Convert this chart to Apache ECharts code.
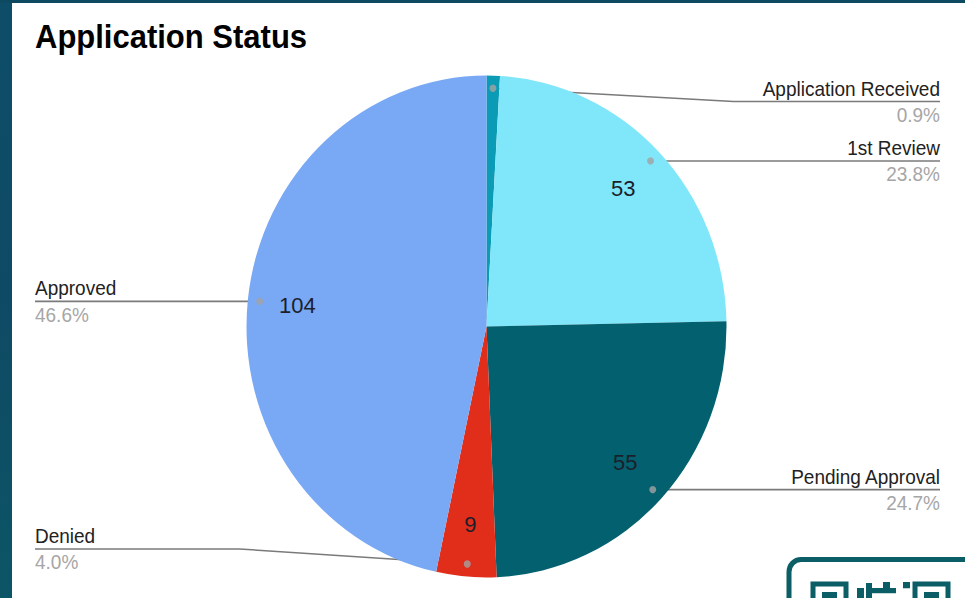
<!DOCTYPE html>
<html><head><meta charset="utf-8">
<script src="https://cdn.jsdelivr.net/npm/echarts@6/dist/echarts.min.js"></script>
<style>html,body{margin:0;padding:0;background:#fff;width:965px;height:598px}
#c{width:965px;height:572px;transform:scaleY(1.045455);transform-origin:0 0}</style>
</head><body><div id="c"></div>
<script>
const categories = ['Application Received', '1st Review', 'Pending Approval', 'Denied', 'Approved'];
const values = [2, 53, 55, 9, 104];
const colors = ['#0b9bb5', '#80e7fb', '#03606e', '#e12e1b', '#79a8f5'];
const titleText = 'Application Status';

// the reference picture is slightly stretched vertically; the chart is drawn at 572px high and scaled
const S = 598 / 572;
const Y = v => v / S;
const CX = 486.5, CY = Y(326.5), R = 240;
const LABEL_TOP = Y(101.5), LABEL_BOTTOM = Y(549);
const ANCHOR_R = 0.95;
const FONT = '"Liberation Sans", Arial, sans-serif';

const total = values.reduce((a, b) => a + b, 0);
const pct = v => (v / total * 100).toFixed(1) + '%';
const mids = [];
{ let c = 0; values.forEach(v => { mids.push(c + v / 2); c += v; }); }

const pieData = categories.map((n, i) => ({ name: n, value: values[i], itemStyle: { color: colors[i] } }));
const QR = '#0b5d66';

const chart = echarts.init(document.getElementById('c'), null, { renderer: 'svg' });
chart.setOption({
  animation: false,
  backgroundColor: '#ffffff',
  title: {
    text: titleText, left: 30, top: 15,
    textStyle: { fontFamily: FONT, fontSize: 31, fontWeight: 'bold', color: '#000' }
  },
  polar: { center: [CX, CY], radius: R },
  angleAxis: { type: 'value', min: 0, max: total, startAngle: 90, clockwise: true, show: false },
  radiusAxis: { type: 'value', min: 0, max: 1, show: false },
  graphic: [
    { type: 'rect', z: 100, shape: { x: 0, y: 0, width: 12, height: 572 },
      style: { fill: new echarts.graphic.LinearGradient(0, 0, 0, 1, [{ offset: 0, color: '#0d4d68' }, { offset: 0.5, color: '#0f4a64' }, { offset: 1, color: '#0b5566' }]) } },
    { type: 'rect', z: 100, shape: { x: 0, y: 0, width: 965, height: Y(3) }, style: { fill: '#0d4a62' } },
    { type: 'rect', z: 100, shape: { x: 789, y: Y(559.5), width: 220, height: 80, r: 12 },
      style: { fill: '#fff', stroke: QR, lineWidth: 5 } },
    { type: 'rect', z: 101, shape: { x: 813, y: Y(584), width: 33, height: 30 }, style: { fill: 'none', stroke: QR, lineWidth: 5 } },
    { type: 'rect', z: 101, shape: { x: 822, y: Y(592), width: 15, height: 10 }, style: { fill: QR } },
    { type: 'rect', z: 101, shape: { x: 857, y: Y(588), width: 7, height: 12 }, style: { fill: QR } },
    { type: 'rect', z: 101, shape: { x: 866, y: Y(583), width: 6, height: 15 }, style: { fill: QR } },
    { type: 'rect', z: 101, shape: { x: 872, y: Y(588), width: 24, height: 5 }, style: { fill: QR } },
    { type: 'rect', z: 101, shape: { x: 883, y: Y(582), width: 7, height: 6 }, style: { fill: QR } },
    { type: 'rect', z: 101, shape: { x: 903, y: Y(582), width: 7, height: 6 }, style: { fill: QR } },
    { type: 'rect', z: 101, shape: { x: 915, y: Y(584), width: 33, height: 30 }, style: { fill: 'none', stroke: QR, lineWidth: 5 } },
    { type: 'rect', z: 101, shape: { x: 924, y: Y(592), width: 15, height: 10 }, style: { fill: QR } }
  ],
  series: [
    {
      type: 'pie', center: [CX, CY], radius: R, startAngle: 90, clockwise: true,
      silent: true, avoidLabelOverlap: false,
      itemStyle: { borderWidth: 0 },
      data: pieData,
      label: {
        show: true, position: 'outside', fontFamily: FONT,
        formatter: p => '{n|' + p.name + '}\n{p|' + pct(p.value) + '}',
        rich: {
          n: { fontFamily: FONT, fontSize: 19, color: '#222', lineHeight: 25 },
          p: { fontFamily: FONT, fontSize: 19, color: '#a6a6a6', lineHeight: 25 }
        }
      },
      labelLine: { show: true, length: 10, length2: 10, smooth: false, lineStyle: { color: '#7a7a7a', width: 1.5 } },
      labelLayout: function (params) {
        const i = params.dataIndex;
        const th = mids[i] / total * Math.PI * 2;
        const ax = CX + ANCHOR_R * R * Math.sin(th);
        const ay = CY - ANCHOR_R * R * Math.cos(th);
        const right = ax > CX;
        const ly = Math.min(Math.max(ay, LABEL_TOP), LABEL_BOTTOM);
        const bx = right ? CX + R + 7 : CX - R - 7;
        const ex = right ? 940 : 35;
        return {
          x: ex, y: ly, align: right ? 'right' : 'left', verticalAlign: 'middle',
          labelLinePoints: [[ax, ay], [bx, ly], [ex, ly]]
        };
      },
      emphasis: { disabled: true }
    },
    {
      type: 'pie', center: [CX, CY], radius: [R * 0.56, R], startAngle: 90, clockwise: true,
      silent: true, z: 3,
      itemStyle: { color: 'rgba(0,0,0,0)', borderWidth: 0 },
      data: categories.map((n, i) => ({ name: n, value: values[i] })),
      label: {
        show: true, position: 'inside', fontFamily: FONT, fontSize: 22, color: '#1c1f2b',
        formatter: p => (p.value / total < 0.02 ? '' : String(p.value))
      },
      labelLine: { show: false },
      emphasis: { disabled: true }
    },
    {
      type: 'scatter', coordinateSystem: 'polar', z: 10, silent: true,
      symbolSize: 7, itemStyle: { color: '#a3a3a3' },
      data: mids.map(m => [ANCHOR_R, m])
    }
  ]
});
</script>
</body></html>
